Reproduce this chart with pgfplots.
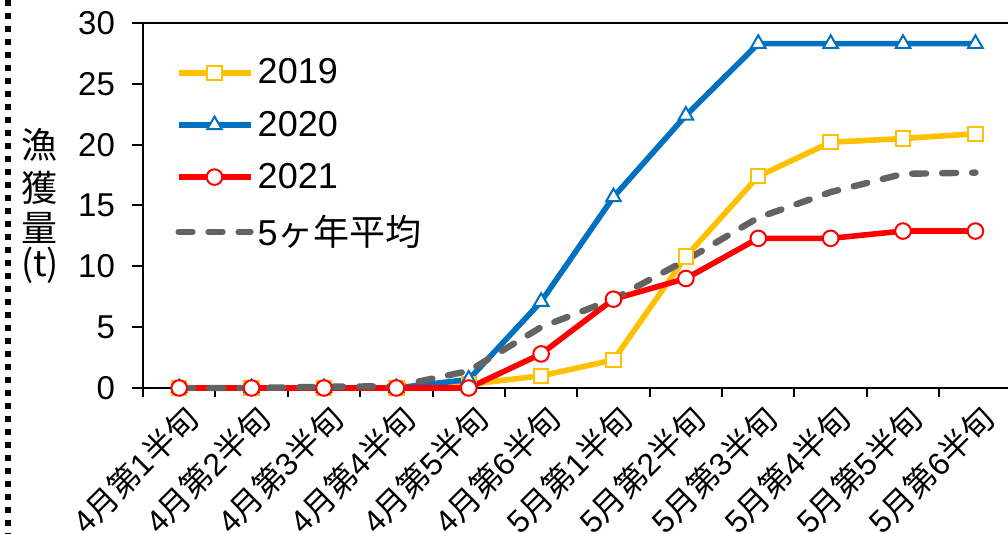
\documentclass[border=0pt]{standalone}
\usepackage{fontspec}
\setmainfont{Liberation Sans}
\newfontfamily\jp{Noto Sans CJK JP}
\usepackage{pgfplots}
\usepackage{pgfplotstable}
\pgfplotsset{compat=1.18}

\definecolor{c19}{HTML}{FFC000}
\definecolor{c20}{HTML}{0070C0}
\definecolor{c21}{HTML}{FF0000}
\definecolor{cav}{HTML}{636363}

% 半旬ごとの累積漁獲量 (t)
\pgfplotstableread{
x  y19   y20   y21   yav
0  0     0     0     0
1  0     0     0     0
2  0     0     0     0.1
3  0     0     0     0.15
4  0.3   0.7   0     1.4
5  1.0   7.1   2.8   5.0
6  2.3   15.7  7.3   7.3
7  10.8  22.4  9.0   10.5
8  17.4  28.3  12.3  14.0
9  20.2  28.3  12.3  16.1
10 20.5  28.3  12.9  17.6
11 20.9  28.3  12.9  17.7
}\catch

\newcommand{\hj}[2]{#1{\jp 月第}#2{\jp 半旬}}
\newcommand{\tickf}{\fontsize{16.5}{20}\selectfont}
\newcommand{\legf}{\fontsize{18}{21}\selectfont}
\newcommand{\labf}{\fontsize{15.8}{19}\selectfont}

\begin{document}
\begin{tikzpicture}
\begin{axis}[
    at={(0,0)}, anchor=south west,
    scale only axis,
    width=432.5pt, height=182.5pt,
    xmin=-0.5, xmax=11.45,
    ymin=0, ymax=30,
    clip=false,
    axis x line*=bottom, axis y line*=left,
    axis line style={line width=1pt, -},
    xtick={0,...,11},
    xticklabels={\hj41,\hj42,\hj43,\hj44,\hj45,\hj46,\hj51,\hj52,\hj53,\hj54,\hj55,\hj56},
    major x tick style={draw=none},
    minor xtick={-0.5,0.5,...,10.5},
    ytick={0,5,...,30},
    tick align=outside,
    major tick length=5.5pt, minor tick length=4.5pt,
    tick style={line width=1pt, black},
    /pgf/number format/assume math mode=true,
    yticklabel style={font=\tickf, xshift=-5pt},
    x tick label style={font=\labf, rotate=45, anchor=north east, inner sep=2pt, xshift=2pt},
    legend style={draw=none, fill=none, at={(0.03,0.925)}, anchor=north west,
        font=\legf, row sep=8pt},
    legend cell align=left,
    legend image code/.code={
        \draw[mark repeat=2, mark phase=2] plot coordinates {(0pt,0pt) (18pt,0pt) (36pt,0pt)};
    },
]
\addplot[c19, line width=2.8pt, mark=square*, mark size=3.6pt,
    mark options={fill=white, draw=c19, line width=1pt, solid}]
    table[x=x, y=y19] {\catch};
\addlegendentry{2019}
\addplot[c20, line width=2.8pt, mark=triangle*, mark size=4.2pt,
    mark options={fill=white, draw=c20, line width=1pt, solid}]
    table[x=x, y=y20] {\catch};
\addlegendentry{2020}
\addplot[c21, line width=2.8pt, mark=*, mark size=3.9pt,
    mark options={fill=white, draw=c21, line width=1pt, solid}]
    table[x=x, y=y21] {\catch};
\addlegendentry{2021}
\addplot[cav, line width=3.2pt, line cap=round, dash pattern=on 7pt off 8pt, no marks]
    table[x=x, y=yav] {\catch};
\addlegendentry{5{\jp ヶ年平均}}
\end{axis}
% top frame line
\draw[line width=1.3pt] (0,182.5pt) -- (432.5pt,182.5pt);
% y label
\node[font=\jp\legf] at (-51.5pt,121.5pt) {漁};
\node[font=\jp\legf] at (-51.5pt,100pt) {獲};
\node[font=\jp\legf] at (-51.5pt,80pt) {量};
\node[font=\jp\legf] at (-51.5pt,61.5pt) {(t)};
% dotted border at the left
\draw[line width=3pt, dash pattern=on 3pt off 3.5pt] (-67.5pt,194pt) -- (-67.5pt,-73pt);
\pgfresetboundingbox
\useasboundingbox (-71.5pt,-73pt) rectangle (432.5pt,194pt);
\end{tikzpicture}
\end{document}
